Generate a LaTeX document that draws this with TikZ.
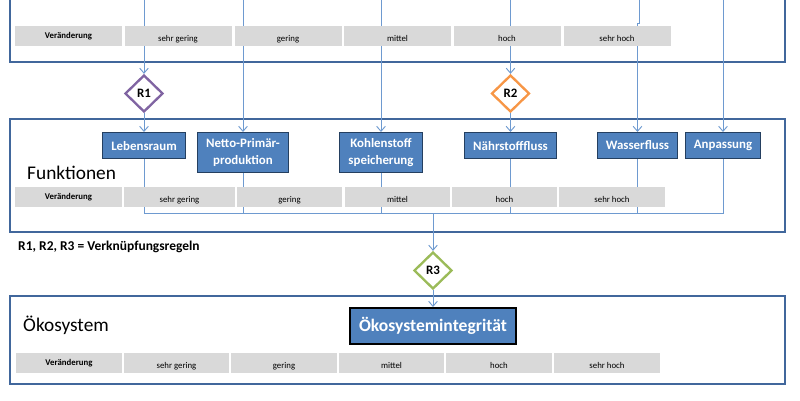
\documentclass[tikz,border=0pt]{standalone}
\usepackage{fontspec}
\setmainfont{Carlito}
\usetikzlibrary{shapes.geometric,arrows.meta}
\definecolor{panelblue}{HTML}{41679C}
\definecolor{boxblue}{HTML}{4F81BD}
\definecolor{boxedge}{HTML}{243F60}
\definecolor{linkblue}{HTML}{6E9AD0}
\definecolor{cellgray}{HTML}{D9D9D9}
\definecolor{ruleviolet}{HTML}{8064A2}
\definecolor{ruleorange}{HTML}{F79646}
\definecolor{rulegreen}{HTML}{9BBB59}
\tikzset{
  function box/.style={
    rectangle,
    draw=boxedge,
    line width=0.9pt,
    fill=boxblue,
    text=white,
    font=\bfseries\fontsize{11}{14.2}\selectfont,
    align=center,
    inner xsep=2.6mm,
    inner ysep=1.8mm,
    minimum height=7.8mm,
    anchor=north
  },
  rule node/.style={
    diamond,
    draw,
    fill=white,
    line width=2pt,
    inner sep=0pt,
    minimum width=11.4mm,
    minimum height=11.1mm,
    font=\bfseries\fontsize{11}{13}\selectfont
  },
  grade cell/.style={
    rectangle,
    fill=cellgray,
    minimum width=32.1mm,
    minimum height=6mm,
    inner sep=0pt,
    text height=1.1em,
    text depth=0.15em,
    font=\fontsize{7.5}{9}\selectfont
  },
  head cell/.style={
    grade cell,
    text height=0.75em,
    text depth=0.25em,
    font=\bfseries\fontsize{7.5}{9}\selectfont
  },
  panel frame/.style={draw=panelblue, line width=1.7pt},
  link line/.style={draw=linkblue, line width=0.8pt},
  link arrow/.style={link line, -{Straight Barb[length=1.5mm,width=2.6mm]}}
}

\begin{document}
\begin{tikzpicture}[x=0.3mm, y=-0.3mm]
  \clip (0,0) rectangle (800,400);
  % Panels
  \draw[panel frame] (10,-10) rectangle (785,62);
  \draw[panel frame] (10,119) rectangle (785,232);
  \draw[panel frame] (10,296) rectangle (785,384);

  % Node placement
  \node [function box] (leb) at (144,132) {Lebensraum};
  \node [function box] (npp) at (243,132) {Netto-Primär-\\produktion};
  \node [function box] (kohl) at (381,132) {Kohlenstoff\\speicherung};
  \node [function box] (naehr) at (510.5,132) {Nährstofffluss};
  \node [function box] (wasser) at (637.5,132) {Wasserfluss};
  \node [function box] (anp) at (723,132) {Anpassung};
  \node [function box, draw=black, line width=1.4pt, inner xsep=2.8mm,
    minimum height=10.8mm, font=\bfseries\fontsize{15}{18}\selectfont]
    (oeko) at (433,307) {Ökosystemintegrität};

  \node [rule node, draw=ruleviolet] (R1) at (144,93.5) {R1};
  \node [rule node, draw=ruleorange] (R2) at (510.5,93.5) {R2};
  \node [rule node, draw=rulegreen] (R3) at (433,270.5) {R3};

  \node [anchor=west, inner sep=0pt, font=\fontsize{16.5}{20}\selectfont] (funk) at (27,173) {Funktionen};
  \node [anchor=west, inner sep=0pt, font=\fontsize{16.5}{20}\selectfont] (oekosys) at (23,325) {Ökosystem};
  \node [anchor=west, inner sep=0pt, font=\bfseries\fontsize{11.5}{13}\selectfont] (legend) at (18,247) {R1, R2, R3 = Verknüpfungsregeln};

  \coordinate (in1) at (144,-5);
  \coordinate (in2) at (243,-5);
  \coordinate (in3) at (381,-5);
  \coordinate (in4) at (510.5,-5);
  \coordinate (in5) at (639,-5);
  \coordinate (jog5) at (639,23);
  \coordinate (in6) at (723,-5);
  \coordinate (join) at (433,213);

  % Arrows
  \draw[link arrow] (in1) -- (R1);
  \draw[link arrow] (R1) -- (leb);
  \draw[link arrow] (in2) -- (npp);
  \draw[link arrow] (in3) -- (kohl);
  \draw[link arrow] (in4) -- (R2);
  \draw[link arrow] (R2) -- (naehr);
  \draw[link arrow] (in5) -- (jog5) -| (wasser);
  \draw[link arrow] (in6) -- (anp);
  \draw[link line] (leb) |- (join);
  \draw[link line] (anp) |- (join);
  \draw[link line] (npp) -- (npp |- join);
  \draw[link line] (kohl) -- (kohl |- join);
  \draw[link line] (naehr) -- (naehr |- join);
  \draw[link line] (wasser) -- (wasser |- join);
  \draw[link arrow] (join) -- (R3);
  \draw[link arrow] (R3) -- (oeko);

  % Tables
  \node [head cell] (vtop) at (68.5,36) {Veränderung};
  \node [grade cell] (top1) at (178,36) {sehr gering};
  \node [grade cell] (top2) at (288,36) {gering};
  \node [grade cell] (top3) at (397.5,36) {mittel};
  \node [grade cell] (top4) at (507,36) {hoch};
  \node [grade cell] (top5) at (617,36) {sehr hoch};

  \node [head cell] (vmid) at (68.5,197) {Veränderung};
  \node [grade cell, minimum width=33.3mm] (mid1) at (179.5,197) {sehr gering};
  \node [grade cell, minimum width=31.5mm] (mid2) at (289.5,197) {gering};
  \node [grade cell, minimum width=31.5mm] (mid3) at (397.5,197) {mittel};
  \node [grade cell, minimum width=31.5mm] (mid4) at (504.5,197) {hoch};
  \node [grade cell, minimum width=31.8mm] (mid5) at (612,197) {sehr hoch};

  \node [head cell, minimum width=31.8mm] (vbot) at (69,362.5) {Veränderung};
  \node [grade cell, minimum width=31.6mm] (bot1) at (176.5,362.5) {sehr gering};
  \node [grade cell, minimum width=31.6mm] (bot2) at (284,362.5) {gering};
  \node [grade cell, minimum width=31.6mm] (bot3) at (391.5,362.5) {mittel};
  \node [grade cell, minimum width=31.6mm] (bot4) at (499,362.5) {hoch};
  \node [grade cell, minimum width=31.6mm] (bot5) at (607,362.5) {sehr hoch};
\end{tikzpicture}
\end{document}
